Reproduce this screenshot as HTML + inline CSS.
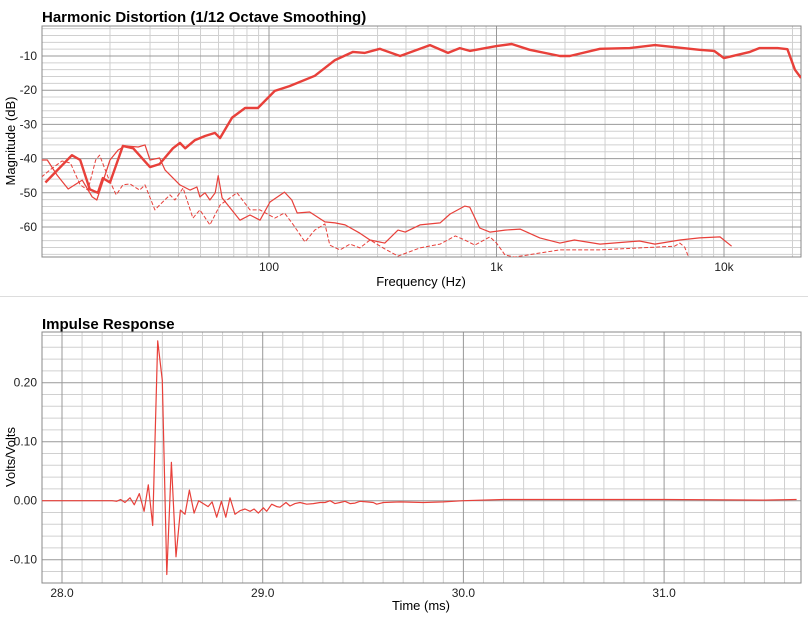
<!DOCTYPE html>
<html><head><meta charset="utf-8"><style>
html,body{margin:0;padding:0;background:#fff;}
svg{display:block;font-family:"Liberation Sans",sans-serif;}
</style></head><body>
<svg id="c" width="808" height="618" viewBox="0 0 808 618" xmlns="http://www.w3.org/2000/svg">
<text x="42" y="22" font-size="15" font-weight="bold" fill="#000">Harmonic Distortion (1/12 Octave Smoothing)</text>
<text x="421" y="286" font-size="13" text-anchor="middle" fill="#000">Frequency (Hz)</text>
<text transform="translate(15,141) rotate(-90)" font-size="13" text-anchor="middle" fill="#000">Magnitude (dB)</text>
<line x1="0" y1="296.5" x2="808" y2="296.5" stroke="#ddd" stroke-width="1"/>
<text x="42" y="329" font-size="15" font-weight="bold" fill="#000">Impulse Response</text>
<text x="421" y="610" font-size="13" text-anchor="middle" fill="#000">Time (ms)</text>
<text transform="translate(15,457) rotate(-90)" font-size="13" text-anchor="middle" fill="#000">Volts/Volts</text>
<g id="topPlot"></g>
<g id="botPlot"></g>
</svg>
<script>
// ---- Harmonic distortion data ----
const h2Freq=[10.4,13.6,14.8,16.3,17.7,18.6,20,22.8,25.3,30,33,37.8,40.6,42.8,47.3,52.3,57.9,60.9,68.8,78.5,89.4,106,123,159,195,234,264,307,377,510,612,690,763,1000,1166,1400,1900,2100,2850,3850,4970,7800,9050,10000,13000,14300,17200,19000,20500,21800];
const h2Db=[-47,-39,-40.4,-49,-50,-45.7,-47,-36.3,-37,-42.5,-41.6,-37,-35.4,-37,-34.6,-33.4,-32.5,-34,-28,-25.2,-25.2,-20.2,-18.8,-15.8,-11.2,-8.8,-9.1,-7.9,-10,-6.8,-9.1,-7.7,-8.5,-7.1,-6.5,-8.2,-10,-10,-7.9,-7.7,-6.8,-8.2,-8.5,-10.6,-8.8,-7.7,-7.7,-8,-14,-16.4];
const h3Freq=[10,10.6,11.7,13.1,14,15.1,16.7,17.5,20,21.7,23.3,26.6,28.5,30,33,34.9,40.6,45,48.2,49.7,52.3,55,58,59.8,62.2,67.4,74.6,82.5,91.3,101,117,126,133,151,176,195,216,251,278,323,369,397,461,565,625,725,763,844,935,1090,1270,1550,1900,2200,2850,4250,4970,6400,7800,9600,10800];
const h3Db=[-40.4,-40.4,-44.8,-48.9,-47.7,-46.3,-51.2,-52.1,-40.4,-37.5,-36.3,-36.6,-36,-40.4,-39.8,-43.3,-47.7,-49.2,-48.3,-51.2,-50,-52.1,-50,-45,-51.5,-54.4,-58,-56.5,-58,-52.7,-49.8,-52.1,-55.9,-55.6,-58.5,-58.8,-59.4,-61.8,-63.8,-64.7,-60.9,-61.5,-59.4,-58.8,-56.2,-53.9,-54.2,-60.3,-61.5,-60.9,-60.6,-63.2,-64.7,-63.8,-65,-64.1,-65,-63.8,-63.2,-62.9,-65.6];
const h4Freq=[10,10.9,12.3,13.4,14.8,16,17.3,18,19.6,21.3,22.8,24.5,27,28.5,31.5,33,36.7,38.6,41.9,46.3,49.7,55,60.9,72.3,82.5,91.3,106,117,128,144,159,176,185,205,227,251,278,323,369,461,565,659,725,804,935,1000,1090,1200,1550,1900,2850,4250,6060,6400,6720,7060];
const h4Db=[-45.4,-43.3,-40.7,-41.3,-47.7,-49.2,-40.4,-39,-45.4,-50.6,-47.7,-47.4,-49.2,-47.7,-55,-53.6,-50.6,-52.1,-48.6,-57.4,-55,-59.4,-53.6,-50,-55,-55,-57.4,-55.9,-59.4,-64.4,-60.9,-59.1,-65.3,-66.7,-65,-66.1,-63.8,-66.4,-68.5,-66.1,-65,-62.6,-63.8,-65.3,-62.9,-64.7,-68.2,-68.8,-67.6,-66.7,-66.7,-66.1,-65.6,-64.7,-65.9,-69.5];
const dbTicks=[-10,-20,-30,-40,-50,-60];
const freqTicks=[100,1000,10000];
const freqTickLabels=["100","1k","10k"];
// ---- Impulse data ----
const irTime=[27.9,28.25,28.272,28.292,28.314,28.339,28.36,28.385,28.409,28.43,28.452,28.477,28.5,28.522,28.545,28.568,28.59,28.613,28.635,28.658,28.681,28.704,28.728,28.748,28.771,28.794,28.816,28.837,28.862,28.887,28.912,28.937,28.957,28.978,29.003,29.02,29.045,29.07,29.086,29.116,29.136,29.161,29.186,29.219,29.252,29.286,29.311,29.336,29.36,29.385,29.41,29.435,29.46,29.485,29.518,29.551,29.568,29.601,29.684,29.8,29.9,30.0,30.2,30.5,31.0,31.5,31.66];
const irVolts=[0,0,-0.001,0.002,-0.003,0.005,-0.007,0.012,-0.018,0.027,-0.042,0.271,0.204,-0.125,0.065,-0.095,-0.016,-0.023,0.018,-0.021,0,-0.005,-0.01,-0.002,-0.028,-0.001,-0.028,0.005,-0.023,-0.017,-0.014,-0.018,-0.014,-0.021,-0.012,-0.018,-0.006,-0.01,-0.011,-0.003,-0.009,-0.005,-0.003,-0.006,-0.005,-0.003,-0.003,0,-0.005,-0.003,-0.001,-0.005,-0.004,-0.001,-0.002,-0.003,-0.006,-0.003,-0.002,-0.003,-0.002,0,0.002,0.002,0.002,0.001,0.002];
const vTicks=[0.2,0.1,0,-0.1];
const vTickLabels=["0.20","0.10","0.00","-0.10"];
const tTicks=[28,29,30,31];
const tTickLabels=["28.0","29.0","30.0","31.0"];

const NS="http://www.w3.org/2000/svg";
function mk(parent,tag,attrs){const e=document.createElementNS(NS,tag);for(const k in attrs)e.setAttribute(k,attrs[k]);parent.appendChild(e);return e;}
const L=42,R=801;
const T1=26,B1=257;
const xF=f=>269+Math.log10(f/100)*227.5;
const yDb=d=>56+(-10-d)*3.42;
const topG=document.getElementById('topPlot');
for(let d=-68;d<=-2;d+=2){if(d%10===0)continue;const l=mk(topG,'line',{x1:L,x2:R,y1:yDb(d),y2:yDb(d),stroke:'#d0d0d0','stroke-width':1});

}
for(let dec=10;dec<=10000;dec*=10){for(let m=1;m<=9;m++){const f=dec*m;const x=xF(f);if(x<L||x>R)continue;if(m===1&&dec>=100)continue;const l=mk(topG,'line',{x1:x,x2:x,y1:T1,y2:B1,stroke:'#d0d0d0','stroke-width':1});

}}
dbTicks.forEach(d=>{const y=yDb(d);const l=mk(topG,'line',{x1:L,x2:R,y1:y,y2:y,stroke:'#999','stroke-width':1});


const t=mk(topG,'text',{x:37,y:y+4,'font-size':12,'text-anchor':'end',fill:'#222'});t.textContent=d;

});
freqTicks.forEach((f,i)=>{const x=xF(f);const l=mk(topG,'line',{x1:x,x2:x,y1:T1,y2:B1,stroke:'#999','stroke-width':1});


const t=mk(topG,'text',{x:x,y:271,'font-size':12,'text-anchor':'middle',fill:'#222'});t.textContent=freqTickLabels[i];

});
const fr1=mk(topG,'rect',{x:L,y:T1,width:R-L,height:B1-T1,fill:'none',stroke:'#888','stroke-width':1});


const clip=mk(topG,'clipPath',{id:'cp1'});mk(clip,'rect',{x:L,y:T1,width:R-L,height:B1-T1});
function series(fs,ds,w,dash,name){const p=fs.map((f,i)=>xF(f).toFixed(1)+','+yDb(ds[i]).toFixed(1)).join(' ');
const e=mk(topG,'polyline',{points:p,fill:'none',stroke:'#e8403a','stroke-width':w,'stroke-linejoin':'round','clip-path':'url(#cp1)'});if(dash)e.setAttribute('stroke-dasharray',dash);

}
series(h4Freq,h4Db,1,'4,2','harmonic-4-line');
series(h3Freq,h3Db,1.2,null,'harmonic-3-line');
series(h2Freq,h2Db,2.4,null,'harmonic-2-line');
const T2=332,B2=583;
const xT=t=>62+(t-28)*200.7;
const yV=v=>500.7-v*590;
const botG=document.getElementById('botPlot');
for(let k=-7;k<=14;k++){if(k%5===0)continue;const y=yV(k*0.02);if(y<T2||y>B2)continue;const l=mk(botG,'line',{x1:L,x2:R,y1:y,y2:y,stroke:'#d0d0d0','stroke-width':1});

}
for(let k=279;k<=317;k++){if(k%10===0)continue;const x=xT(k/10);if(x<L||x>R)continue;const l=mk(botG,'line',{x1:x,x2:x,y1:T2,y2:B2,stroke:'#d0d0d0','stroke-width':1});

}
vTicks.forEach((v,i)=>{const y=yV(v);const l=mk(botG,'line',{x1:L,x2:R,y1:y,y2:y,stroke:'#999','stroke-width':1});


const t=mk(botG,'text',{x:37,y:y+4,'font-size':12,'text-anchor':'end',fill:'#222'});t.textContent=vTickLabels[i];

});
tTicks.forEach((tv,i)=>{const x=xT(tv);const l=mk(botG,'line',{x1:x,x2:x,y1:T2,y2:B2,stroke:'#999','stroke-width':1});


const t=mk(botG,'text',{x:x,y:597,'font-size':12,'text-anchor':'middle',fill:'#222'});t.textContent=tTickLabels[i];

});
const fr2=mk(botG,'rect',{x:L,y:T2,width:R-L,height:B2-T2,fill:'none',stroke:'#888','stroke-width':1});


const ip=irTime.map((t,i)=>Math.max(L,xT(t)).toFixed(1)+','+yV(irVolts[i]).toFixed(1)).join(' ');
const il=mk(botG,'polyline',{points:ip,fill:'none',stroke:'#e8403a','stroke-width':1.2,'stroke-linejoin':'round'});


</script>
</body></html>
